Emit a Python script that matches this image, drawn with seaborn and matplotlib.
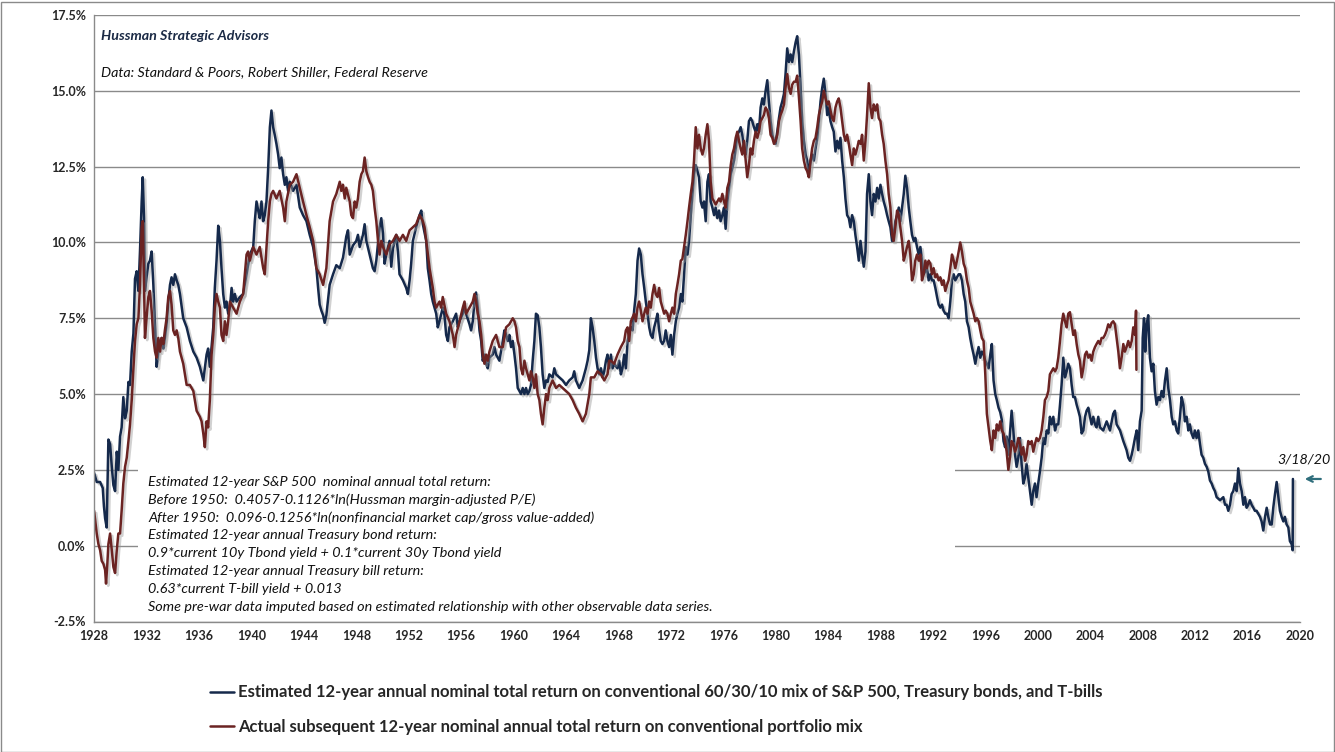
import matplotlib
matplotlib.use("Agg")
import matplotlib.pyplot as plt
import matplotlib.patheffects as pe
from matplotlib.patches import Rectangle
from matplotlib.ticker import FuncFormatter
import seaborn as sns
import pandas as pd

# (year, percent)
est_pts = [
    (1928.0, 2.4), (1928.2, 2.1), (1928.46, 2.1), (1928.66, 1.9), (1928.75, 1.3), (1928.84, 0.9),
    (1928.96, 0.6), (1929.09, 3.5), (1929.22, 3.35), (1929.35, 2.6), (1929.47, 2.0), (1929.6, 1.8),
    (1929.73, 3.1), (1929.85, 2.5), (1929.98, 3.6), (1930.1, 3.9), (1930.23, 4.9), (1930.36, 4.2),
    (1930.49, 4.45), (1930.62, 5.4), (1930.74, 5.3), (1930.87, 6.4), (1931.0, 7.0), (1931.12, 8.8),
    (1931.25, 9.05), (1931.38, 8.4), (1931.5, 9.7), (1931.63, 11.35), (1931.71, 12.15), (1931.81, 10.8),
    (1931.88, 8.4), (1932.0, 8.85), (1932.14, 9.3), (1932.26, 9.4), (1932.39, 9.7), (1932.52, 8.6),
    (1932.65, 7.2), (1932.77, 5.9), (1932.9, 6.4), (1933.03, 6.75), (1933.15, 6.85), (1933.28, 6.5),
    (1933.4, 6.85), (1933.53, 7.3), (1933.66, 8.05), (1933.79, 8.6), (1933.91, 8.85), (1934.04, 8.6),
    (1934.17, 8.95), (1934.3, 8.75), (1934.42, 8.6), (1934.55, 8.3), (1934.8, 7.5), (1935.06, 7.2),
    (1935.31, 6.75), (1935.57, 6.4), (1935.82, 6.2), (1936.07, 5.9), (1936.33, 5.45), (1936.45, 5.85),
    (1936.58, 6.3), (1936.7, 6.5), (1936.83, 5.9), (1937.09, 7.2), (1937.21, 8.5), (1937.34, 9.4),
    (1937.47, 10.55), (1937.6, 10.05), (1937.72, 9.15), (1937.85, 8.3), (1937.98, 7.85), (1938.1, 8.05),
    (1938.23, 7.65), (1938.36, 7.85), (1938.49, 8.5), (1938.61, 8.05), (1938.74, 8.3), (1938.87, 8.05),
    (1939.12, 8.2), (1939.37, 8.3), (1939.63, 8.95), (1939.88, 9.6), (1940.14, 9.85), (1940.26, 10.7),
    (1940.39, 11.35), (1940.52, 11.05), (1940.64, 10.8), (1940.77, 11.35), (1940.9, 10.7), (1941.02, 10.9),
    (1941.15, 11.35), (1941.28, 12.45), (1941.41, 13.8), (1941.53, 14.35), (1941.66, 13.8), (1941.78, 13.55),
    (1941.91, 13.25), (1942.04, 12.9), (1942.16, 12.45), (1942.29, 12.8), (1942.42, 12.25), (1942.55, 11.9),
    (1942.67, 12.15), (1942.8, 11.7), (1942.93, 12.0), (1943.18, 11.7), (1943.44, 11.9), (1943.69, 11.15),
    (1943.94, 10.9), (1944.2, 10.7), (1944.45, 10.25), (1944.71, 9.85), (1944.96, 9.15), (1945.09, 8.5),
    (1945.21, 7.95), (1945.34, 7.75), (1945.47, 7.6), (1945.59, 7.35), (1945.72, 7.6), (1945.97, 8.6),
    (1946.23, 8.95), (1946.48, 9.25), (1946.74, 9.15), (1946.99, 9.5), (1947.24, 10.2), (1947.37, 10.4),
    (1947.5, 9.6), (1947.75, 9.9), (1948.0, 10.05), (1948.13, 10.25), (1948.26, 9.85), (1948.51, 10.25),
    (1948.64, 10.6), (1948.77, 10.05), (1949.02, 9.6), (1949.27, 9.15), (1949.4, 9.05), (1949.53, 9.4),
    (1949.78, 10.5), (1949.91, 10.8), (1950.04, 10.3), (1950.16, 9.3), (1950.29, 9.6), (1950.54, 10.05),
    (1950.67, 9.2), (1950.8, 9.8), (1951.05, 10.25), (1951.18, 9.7), (1951.3, 8.95), (1951.56, 8.75),
    (1951.81, 8.5), (1951.94, 8.3), (1952.07, 8.75), (1952.19, 9.3), (1952.32, 10.05), (1952.57, 10.5),
    (1952.83, 10.9), (1952.96, 11.05), (1953.08, 10.6), (1953.34, 10.05), (1953.46, 9.15), (1953.59, 8.75),
    (1953.72, 8.3), (1953.84, 8.05), (1954.1, 7.65), (1954.22, 7.2), (1954.35, 7.4), (1954.6, 7.85),
    (1954.73, 7.6), (1954.86, 6.95), (1954.99, 6.75), (1955.11, 7.2), (1955.37, 7.4), (1955.62, 7.65),
    (1955.75, 7.2), (1955.88, 7.4), (1956.13, 7.65), (1956.26, 7.85), (1956.38, 7.65), (1956.64, 7.3),
    (1956.76, 7.1), (1956.89, 7.4), (1957.02, 8.05), (1957.14, 8.35), (1957.27, 7.85), (1957.4, 7.1),
    (1957.53, 6.75), (1957.65, 6.1), (1957.78, 6.3), (1957.91, 6.0), (1958.03, 5.85), (1958.16, 6.2),
    (1958.41, 6.3), (1958.54, 6.55), (1958.67, 6.3), (1958.92, 6.1), (1959.18, 6.75), (1959.3, 7.1),
    (1959.43, 6.95), (1959.56, 6.75), (1959.68, 6.95), (1959.81, 6.55), (1959.94, 6.75), (1960.07, 6.3),
    (1960.19, 5.85), (1960.32, 5.2), (1960.45, 5.1), (1960.57, 5.0), (1960.7, 5.2), (1960.83, 5.0),
    (1960.95, 5.2), (1961.08, 5.0), (1961.21, 5.1), (1961.33, 5.3), (1961.46, 6.1), (1961.59, 6.75),
    (1961.71, 7.65), (1961.84, 7.6), (1961.97, 7.2), (1962.09, 6.55), (1962.22, 5.65), (1962.35, 5.2),
    (1962.48, 5.45), (1962.6, 5.4), (1962.73, 5.65), (1962.98, 5.55), (1963.11, 5.85), (1963.24, 5.65),
    (1963.49, 5.55), (1963.75, 5.45), (1964.0, 5.3), (1964.25, 5.45), (1964.51, 5.55), (1964.63, 5.75),
    (1964.76, 5.45), (1965.01, 5.2), (1965.27, 5.45), (1965.52, 5.85), (1965.65, 6.1), (1965.78, 6.45),
    (1965.9, 7.5), (1966.03, 7.2), (1966.16, 6.75), (1966.29, 6.2), (1966.41, 5.85), (1966.54, 5.65),
    (1966.67, 5.85), (1966.79, 5.55), (1966.92, 5.75), (1967.05, 6.1), (1967.17, 6.3), (1967.3, 5.85),
    (1967.43, 6.3), (1967.55, 5.85), (1967.68, 6.0), (1967.93, 5.85), (1968.06, 6.1), (1968.19, 5.65),
    (1968.31, 5.85), (1968.44, 6.3), (1968.57, 5.85), (1968.7, 6.75), (1968.95, 7.2), (1969.08, 7.1),
    (1969.2, 7.75), (1969.33, 8.3), (1969.46, 9.4), (1969.58, 9.8), (1969.71, 9.6), (1969.84, 8.95),
    (1969.97, 8.5), (1970.09, 8.05), (1970.22, 7.65), (1970.35, 7.2), (1970.47, 6.95), (1970.6, 6.85),
    (1970.73, 7.2), (1970.85, 7.4), (1970.98, 7.65), (1971.11, 7.1), (1971.23, 6.75), (1971.36, 6.65),
    (1971.49, 6.75), (1971.61, 7.1), (1971.74, 6.75), (1971.87, 6.55), (1972.0, 6.95), (1972.12, 6.3),
    (1972.25, 6.95), (1972.38, 7.4), (1972.5, 7.65), (1972.63, 7.85), (1972.76, 8.3), (1972.88, 8.05),
    (1973.01, 8.95), (1973.14, 9.85), (1973.27, 9.6), (1973.39, 10.05), (1973.52, 10.9), (1973.65, 11.6),
    (1973.77, 12.25), (1973.9, 12.55), (1974.03, 12.35), (1974.15, 12.15), (1974.28, 11.35), (1974.41, 11.15),
    (1974.53, 11.35), (1974.66, 10.7), (1974.79, 12.0), (1974.91, 12.25), (1975.04, 11.35), (1975.17, 11.15),
    (1975.3, 10.9), (1975.42, 11.15), (1975.55, 10.8), (1975.68, 11.05), (1975.8, 10.7), (1975.93, 10.9),
    (1976.06, 11.15), (1976.18, 10.45), (1976.31, 11.35), (1976.44, 11.8), (1976.57, 12.25), (1976.69, 12.45),
    (1976.82, 12.7), (1976.95, 13.1), (1977.07, 13.55), (1977.2, 13.65), (1977.33, 13.8), (1977.45, 13.55),
    (1977.58, 13.1), (1977.71, 12.9), (1977.83, 13.35), (1977.96, 14.0), (1978.09, 14.1), (1978.21, 14.0),
    (1978.34, 13.8), (1978.47, 13.65), (1978.6, 13.9), (1978.72, 13.65), (1978.85, 14.45), (1978.98, 14.75),
    (1979.1, 14.55), (1979.23, 15.0), (1979.36, 15.35), (1979.48, 14.65), (1979.61, 14.0), (1979.74, 13.55),
    (1979.87, 13.35), (1979.99, 13.25), (1980.12, 13.65), (1980.25, 14.1), (1980.37, 14.45), (1980.5, 14.65),
    (1980.63, 14.9), (1980.75, 15.55), (1980.88, 16.4), (1981.01, 15.95), (1981.14, 16.2), (1981.26, 15.95),
    (1981.39, 16.3), (1981.52, 16.6), (1981.64, 16.8), (1981.77, 16.2), (1981.9, 15.1), (1982.02, 14.0),
    (1982.15, 13.35), (1982.28, 12.9), (1982.4, 12.7), (1982.53, 12.25), (1982.66, 12.7), (1982.78, 12.9),
    (1982.91, 12.7), (1983.04, 13.1), (1983.17, 13.45), (1983.29, 14.0), (1983.42, 14.65), (1983.55, 15.1),
    (1983.67, 15.4), (1983.8, 14.9), (1983.93, 14.2), (1984.05, 14.45), (1984.18, 14.0), (1984.31, 13.8),
    (1984.43, 13.65), (1984.56, 13.0), (1984.69, 13.35), (1984.81, 13.1), (1984.94, 13.45), (1985.07, 12.7),
    (1985.2, 12.15), (1985.32, 11.45), (1985.45, 10.9), (1985.58, 10.8), (1985.7, 10.5), (1985.83, 10.9),
    (1985.96, 10.7), (1986.08, 10.25), (1986.21, 9.85), (1986.34, 9.4), (1986.47, 10.05), (1986.59, 9.6),
    (1986.72, 9.2), (1986.85, 9.7), (1986.97, 11.6), (1987.1, 12.25), (1987.23, 11.35), (1987.35, 10.9),
    (1987.48, 11.6), (1987.61, 11.35), (1987.74, 11.8), (1987.86, 11.45), (1987.99, 11.9), (1988.12, 11.6),
    (1988.24, 11.35), (1988.37, 11.15), (1988.5, 10.9), (1988.62, 10.7), (1988.75, 10.5), (1988.88, 10.05),
    (1989.0, 10.25), (1989.13, 10.7), (1989.26, 10.9), (1989.39, 11.15), (1989.51, 10.7), (1989.64, 11.15),
    (1989.77, 11.6), (1989.89, 12.2), (1990.02, 11.8), (1990.15, 11.15), (1990.27, 10.7), (1990.4, 10.25),
    (1990.53, 10.05), (1990.65, 10.15), (1990.78, 9.85), (1990.91, 9.6), (1991.04, 9.85), (1991.16, 9.4),
    (1991.29, 8.95), (1991.42, 9.05), (1991.54, 9.15), (1991.67, 8.75), (1991.8, 8.95), (1991.92, 8.75),
    (1992.05, 8.75), (1992.18, 8.5), (1992.31, 8.2), (1992.43, 7.95), (1992.56, 7.85), (1992.69, 7.95),
    (1992.81, 7.75), (1992.94, 7.65), (1993.07, 7.65), (1993.19, 7.5), (1993.32, 8.05), (1993.45, 8.75),
    (1993.58, 8.95), (1993.7, 8.75), (1993.83, 8.85), (1993.96, 8.95), (1994.08, 8.95), (1994.21, 8.75),
    (1994.34, 8.3), (1994.46, 8.05), (1994.59, 7.4), (1994.72, 7.2), (1994.84, 6.85), (1994.97, 6.55),
    (1995.1, 6.3), (1995.23, 6.0), (1995.35, 6.3), (1995.48, 6.55), (1995.61, 6.2), (1995.73, 6.4),
    (1995.86, 6.3), (1995.99, 6.1), (1996.11, 6.0), (1996.24, 5.85), (1996.37, 6.3), (1996.49, 6.65),
    (1996.62, 5.45), (1996.75, 5.0), (1996.87, 4.8), (1997.0, 4.55), (1997.13, 4.4), (1997.25, 4.15),
    (1997.38, 3.45), (1997.5, 3.25), (1997.62, 3.6), (1997.75, 3.0), (1997.87, 3.7), (1998.0, 4.45),
    (1998.13, 3.8), (1998.26, 3.0), (1998.38, 2.6), (1998.51, 2.9), (1998.64, 3.55), (1998.76, 2.7),
    (1998.89, 2.05), (1999.02, 2.25), (1999.14, 2.7), (1999.27, 2.25), (1999.4, 1.8), (1999.53, 1.35),
    (1999.65, 1.8), (1999.78, 2.05), (1999.9, 1.6), (2000.03, 2.05), (2000.16, 2.45), (2000.29, 2.9),
    (2000.42, 3.55), (2000.54, 3.35), (2000.67, 3.8), (2000.8, 3.7), (2000.92, 4.25), (2001.05, 4.0),
    (2001.18, 4.25), (2001.31, 3.8), (2001.43, 4.0), (2001.56, 4.0), (2001.69, 4.65), (2001.81, 5.3),
    (2001.94, 6.2), (2002.07, 5.55), (2002.2, 5.75), (2002.32, 6.0), (2002.45, 5.85), (2002.58, 5.3),
    (2002.7, 4.9), (2002.83, 4.9), (2002.96, 4.65), (2003.09, 4.45), (2003.21, 4.25), (2003.34, 3.7),
    (2003.47, 3.8), (2003.6, 4.25), (2003.72, 4.45), (2003.85, 4.55), (2003.98, 4.25), (2004.1, 4.0),
    (2004.23, 4.25), (2004.36, 4.0), (2004.48, 3.9), (2004.61, 4.25), (2004.74, 3.9), (2004.99, 3.8),
    (2005.25, 4.1), (2005.5, 3.8), (2005.75, 4.35), (2005.88, 4.45), (2006.01, 4.0), (2006.27, 3.8),
    (2006.52, 3.45), (2006.77, 3.15), (2006.9, 2.9), (2007.03, 2.8), (2007.16, 3.0), (2007.28, 3.25),
    (2007.41, 3.55), (2007.54, 3.8), (2007.66, 3.15), (2007.79, 4.1), (2007.92, 4.45), (2008.0, 6.85),
    (2008.1, 7.5), (2008.19, 6.4), (2008.3, 7.3), (2008.42, 7.6), (2008.55, 6.2), (2008.68, 5.75),
    (2008.81, 6.0), (2008.93, 5.1), (2009.06, 4.65), (2009.19, 4.9), (2009.32, 4.8), (2009.44, 5.1),
    (2009.57, 4.9), (2009.7, 5.45), (2009.83, 5.85), (2009.95, 5.2), (2010.08, 4.8), (2010.21, 4.25),
    (2010.33, 4.0), (2010.46, 4.1), (2010.59, 3.8), (2010.71, 3.7), (2010.84, 4.25), (2010.97, 4.9),
    (2011.1, 4.65), (2011.22, 4.1), (2011.35, 4.25), (2011.48, 3.8), (2011.6, 4.0), (2011.73, 3.7),
    (2011.86, 3.55), (2011.98, 3.8), (2012.11, 3.55), (2012.24, 3.8), (2012.37, 3.35), (2012.49, 3.0),
    (2012.62, 2.9), (2012.75, 2.7), (2012.88, 2.6), (2013.0, 2.45), (2013.13, 2.15), (2013.26, 2.05),
    (2013.39, 1.9), (2013.51, 1.8), (2013.64, 1.6), (2013.9, 1.5), (2014.15, 1.6), (2014.28, 1.35),
    (2014.4, 1.35), (2014.53, 1.15), (2014.66, 1.35), (2014.78, 1.7), (2014.91, 1.8), (2015.04, 2.05),
    (2015.17, 1.8), (2015.29, 2.55), (2015.42, 2.05), (2015.55, 1.8), (2015.68, 1.35), (2015.8, 1.6),
    (2015.93, 1.25), (2016.06, 1.35), (2016.18, 1.5), (2016.31, 1.35), (2016.44, 1.25), (2016.56, 1.15),
    (2016.69, 1.15), (2016.82, 1.05), (2016.95, 0.95), (2017.07, 0.8), (2017.2, 0.5), (2017.33, 0.95),
    (2017.46, 1.25), (2017.58, 0.95), (2017.71, 0.7), (2017.84, 0.7), (2017.96, 1.25), (2018.09, 1.7),
    (2018.22, 2.1), (2018.35, 1.6), (2018.47, 1.15), (2018.6, 0.95), (2018.73, 0.8), (2018.85, 0.95),
    (2018.98, 0.7), (2019.11, 0.6), (2019.23, 0.15), (2019.36, 0.05), (2019.44, -0.15), (2019.46, 2.2),
]

act_pts = [
    (1928.0, 1.15), (1928.2, 0.4), (1928.33, 0.05), (1928.46, -0.15), (1928.58, -0.5), (1928.71, -0.6),
    (1928.84, -0.8), (1928.91, -1.25), (1929.01, -0.6), (1929.09, 0.05), (1929.22, 0.4), (1929.35, -0.15),
    (1929.47, -0.7), (1929.6, -0.9), (1929.73, -0.15), (1929.85, 0.4), (1929.98, 0.4), (1930.1, 1.15),
    (1930.23, 2.05), (1930.36, 2.6), (1930.49, 2.9), (1930.62, 3.45), (1930.74, 4.0), (1930.87, 4.8),
    (1931.0, 5.85), (1931.12, 6.75), (1931.25, 7.3), (1931.38, 7.5), (1931.5, 8.6), (1931.63, 10.5),
    (1931.71, 10.7), (1931.81, 8.6), (1931.88, 6.85), (1932.0, 7.5), (1932.14, 8.2), (1932.26, 8.4),
    (1932.39, 7.75), (1932.52, 6.85), (1932.65, 6.4), (1932.77, 6.2), (1932.9, 6.85), (1933.03, 6.4),
    (1933.15, 6.85), (1933.28, 6.65), (1933.4, 7.1), (1933.53, 7.5), (1933.66, 8.2), (1933.79, 8.4),
    (1933.91, 7.95), (1934.04, 7.1), (1934.17, 6.95), (1934.3, 7.1), (1934.42, 6.85), (1934.55, 6.4),
    (1934.8, 6.0), (1935.06, 5.3), (1935.31, 5.3), (1935.57, 5.1), (1935.82, 4.45), (1936.07, 4.25),
    (1936.2, 4.1), (1936.33, 3.7), (1936.45, 3.25), (1936.58, 4.1), (1936.7, 3.9), (1936.83, 4.8),
    (1936.96, 6.3), (1937.09, 6.95), (1937.21, 7.85), (1937.34, 8.3), (1937.47, 8.05), (1937.6, 7.85),
    (1937.72, 6.95), (1937.85, 6.75), (1937.98, 7.4), (1938.1, 6.95), (1938.23, 7.4), (1938.36, 8.05),
    (1938.61, 7.85), (1938.87, 7.65), (1939.12, 8.05), (1939.37, 8.3), (1939.63, 9.6), (1939.75, 9.7),
    (1939.88, 9.4), (1940.14, 9.85), (1940.39, 9.6), (1940.64, 9.85), (1940.9, 9.15), (1941.02, 8.95),
    (1941.15, 9.85), (1941.28, 10.7), (1941.41, 11.35), (1941.53, 11.6), (1941.66, 11.7), (1941.91, 11.45),
    (1942.16, 11.7), (1942.42, 11.15), (1942.55, 10.7), (1942.67, 11.35), (1942.93, 11.9), (1943.18, 12.0),
    (1943.44, 12.25), (1943.69, 11.8), (1943.94, 11.35), (1944.2, 10.9), (1944.45, 10.5), (1944.71, 10.05),
    (1944.96, 9.15), (1945.21, 8.95), (1945.47, 8.6), (1945.72, 9.15), (1945.97, 10.7), (1946.23, 11.35),
    (1946.48, 11.6), (1946.74, 12.0), (1946.86, 11.7), (1946.99, 11.9), (1947.12, 11.45), (1947.24, 11.8),
    (1947.5, 11.35), (1947.62, 10.9), (1947.75, 10.8), (1947.88, 11.35), (1948.0, 11.15), (1948.13, 11.45),
    (1948.26, 12.0), (1948.39, 12.25), (1948.51, 12.35), (1948.64, 12.8), (1948.77, 12.35), (1948.9, 12.15),
    (1949.02, 12.0), (1949.15, 11.9), (1949.27, 11.7), (1949.4, 11.15), (1949.53, 10.7), (1949.66, 10.05),
    (1949.78, 9.6), (1949.91, 10.05), (1950.04, 9.85), (1950.29, 9.6), (1950.54, 9.95), (1950.8, 10.05),
    (1951.05, 10.25), (1951.3, 10.05), (1951.56, 10.25), (1951.81, 10.05), (1952.07, 10.4), (1952.32, 10.5),
    (1952.57, 10.6), (1952.83, 10.9), (1952.96, 10.8), (1953.08, 10.7), (1953.21, 10.5), (1953.34, 10.05),
    (1953.59, 9.15), (1953.84, 8.5), (1953.97, 8.05), (1954.1, 7.85), (1954.35, 8.05), (1954.48, 7.85),
    (1954.6, 8.2), (1954.86, 7.65), (1955.11, 7.4), (1955.37, 6.95), (1955.5, 6.55), (1955.62, 6.95),
    (1955.88, 7.4), (1956.13, 7.85), (1956.26, 8.05), (1956.38, 7.65), (1956.64, 7.85), (1956.89, 8.05),
    (1957.02, 8.3), (1957.14, 8.05), (1957.27, 7.65), (1957.4, 7.4), (1957.53, 6.95), (1957.65, 6.3),
    (1957.78, 6.0), (1957.91, 6.3), (1958.03, 6.1), (1958.16, 6.4), (1958.41, 6.75), (1958.67, 6.95),
    (1958.92, 6.55), (1959.18, 6.55), (1959.43, 7.2), (1959.68, 7.3), (1959.94, 7.5), (1960.07, 7.4),
    (1960.19, 7.2), (1960.32, 6.75), (1960.45, 6.55), (1960.57, 5.85), (1960.7, 5.65), (1960.83, 6.1),
    (1960.95, 5.85), (1961.21, 5.45), (1961.33, 5.75), (1961.46, 5.55), (1961.59, 5.2), (1961.71, 5.65),
    (1961.84, 5.0), (1961.97, 4.8), (1962.09, 4.35), (1962.22, 4.0), (1962.35, 4.55), (1962.48, 5.0),
    (1962.6, 4.8), (1962.73, 5.2), (1962.98, 5.45), (1963.24, 5.2), (1963.49, 5.3), (1963.75, 5.2),
    (1964.0, 5.1), (1964.25, 5.0), (1964.51, 4.8), (1964.76, 4.55), (1965.01, 4.35), (1965.27, 4.1),
    (1965.52, 4.35), (1965.78, 5.0), (1965.9, 5.55), (1966.16, 5.55), (1966.41, 5.75), (1966.67, 5.65),
    (1966.92, 5.45), (1967.17, 5.65), (1967.3, 6.1), (1967.43, 6.1), (1967.68, 6.0), (1967.93, 6.3),
    (1968.19, 6.55), (1968.44, 6.75), (1968.57, 7.1), (1968.7, 7.2), (1968.82, 6.75), (1968.95, 7.4),
    (1969.2, 7.65), (1969.33, 7.4), (1969.46, 7.85), (1969.58, 8.05), (1969.71, 7.75), (1969.84, 7.4),
    (1969.97, 7.65), (1970.09, 7.85), (1970.22, 7.65), (1970.35, 8.05), (1970.47, 7.85), (1970.6, 8.3),
    (1970.73, 8.6), (1970.85, 8.3), (1970.98, 8.2), (1971.11, 8.5), (1971.23, 8.05), (1971.36, 7.85),
    (1971.49, 7.65), (1971.61, 7.75), (1971.74, 7.65), (1971.87, 7.4), (1972.0, 7.65), (1972.12, 7.85),
    (1972.25, 7.65), (1972.38, 8.3), (1972.5, 8.6), (1972.63, 8.95), (1972.76, 9.4), (1972.88, 9.45),
    (1973.01, 9.85), (1973.14, 10.25), (1973.27, 10.7), (1973.39, 11.15), (1973.52, 11.6), (1973.65, 12.0),
    (1973.77, 12.7), (1973.9, 13.8), (1974.03, 13.1), (1974.15, 13.55), (1974.28, 13.1), (1974.41, 12.9),
    (1974.53, 13.1), (1974.66, 13.55), (1974.79, 13.9), (1974.91, 13.35), (1975.04, 12.0), (1975.17, 11.45),
    (1975.3, 11.35), (1975.42, 11.25), (1975.55, 11.35), (1975.68, 11.45), (1975.8, 11.35), (1975.93, 11.6),
    (1976.06, 11.35), (1976.18, 11.15), (1976.31, 11.8), (1976.44, 12.0), (1976.57, 12.55), (1976.69, 12.9),
    (1976.82, 13.1), (1976.95, 13.45), (1977.07, 13.65), (1977.2, 13.35), (1977.33, 13.1), (1977.45, 12.9),
    (1977.58, 13.35), (1977.71, 12.7), (1977.83, 12.15), (1977.96, 12.55), (1978.09, 13.1), (1978.21, 12.9),
    (1978.34, 13.35), (1978.47, 13.65), (1978.6, 13.45), (1978.72, 13.65), (1978.85, 14.0), (1978.98, 14.1),
    (1979.1, 14.2), (1979.23, 14.45), (1979.36, 14.35), (1979.48, 14.1), (1979.61, 13.55), (1979.74, 13.45),
    (1979.87, 13.25), (1979.99, 13.35), (1980.12, 13.55), (1980.25, 14.0), (1980.37, 14.2), (1980.5, 14.35),
    (1980.63, 14.55), (1980.75, 15.1), (1980.88, 15.55), (1981.01, 15.1), (1981.14, 14.9), (1981.26, 15.2),
    (1981.39, 15.3), (1981.52, 15.3), (1981.64, 15.5), (1981.77, 14.8), (1981.9, 14.0), (1982.02, 13.1),
    (1982.15, 12.7), (1982.28, 12.45), (1982.4, 12.35), (1982.53, 12.15), (1982.66, 12.7), (1982.78, 13.1),
    (1982.91, 13.35), (1983.04, 13.45), (1983.17, 13.8), (1983.29, 14.2), (1983.42, 14.45), (1983.55, 14.65),
    (1983.67, 15.0), (1983.8, 14.75), (1983.93, 14.55), (1984.05, 14.65), (1984.18, 14.35), (1984.31, 14.1),
    (1984.43, 14.0), (1984.56, 14.45), (1984.69, 14.65), (1984.81, 14.75), (1984.94, 14.45), (1985.07, 14.0),
    (1985.2, 13.55), (1985.32, 13.35), (1985.45, 13.55), (1985.58, 13.25), (1985.7, 12.9), (1985.83, 12.55),
    (1985.96, 13.1), (1986.08, 12.9), (1986.21, 13.1), (1986.34, 13.35), (1986.47, 13.25), (1986.59, 13.55),
    (1986.72, 12.7), (1986.85, 13.35), (1986.97, 14.2), (1987.1, 15.25), (1987.23, 14.45), (1987.35, 14.1),
    (1987.48, 14.55), (1987.61, 14.35), (1987.74, 14.55), (1987.86, 14.1), (1987.99, 14.0), (1988.12, 13.55),
    (1988.24, 13.25), (1988.37, 12.7), (1988.5, 12.25), (1988.62, 11.6), (1988.75, 11.15), (1988.88, 10.25),
    (1989.0, 10.05), (1989.13, 10.5), (1989.26, 11.05), (1989.39, 10.9), (1989.51, 10.5), (1989.64, 10.05),
    (1989.77, 9.4), (1989.89, 9.6), (1990.02, 9.85), (1990.15, 10.05), (1990.27, 9.6), (1990.4, 8.75),
    (1990.53, 8.95), (1990.65, 9.4), (1990.78, 9.6), (1990.91, 9.4), (1991.04, 9.6), (1991.16, 8.75),
    (1991.29, 8.95), (1991.42, 9.4), (1991.54, 9.15), (1991.67, 9.4), (1991.8, 9.3), (1991.92, 8.95),
    (1992.05, 9.15), (1992.18, 8.85), (1992.31, 8.95), (1992.43, 8.75), (1992.56, 8.85), (1992.69, 8.6),
    (1992.81, 8.75), (1992.94, 8.4), (1993.07, 8.6), (1993.19, 8.75), (1993.32, 9.15), (1993.45, 9.6),
    (1993.58, 9.4), (1993.7, 9.15), (1993.83, 9.4), (1993.96, 9.7), (1994.08, 10.0), (1994.21, 9.7),
    (1994.34, 9.3), (1994.46, 9.15), (1994.59, 8.75), (1994.72, 8.5), (1994.84, 8.05), (1994.97, 7.85),
    (1995.1, 7.65), (1995.23, 7.4), (1995.35, 7.5), (1995.48, 7.4), (1995.61, 7.1), (1995.73, 6.85),
    (1995.86, 6.75), (1995.99, 5.65), (1996.11, 4.35), (1996.24, 3.9), (1996.37, 3.45), (1996.49, 3.15),
    (1996.62, 3.8), (1996.75, 3.55), (1996.87, 4.0), (1997.0, 3.8), (1997.13, 4.1), (1997.25, 3.8),
    (1997.38, 3.7), (1997.5, 3.45), (1997.62, 3.1), (1997.75, 2.5), (1997.87, 2.9), (1998.0, 3.45),
    (1998.13, 3.35), (1998.26, 3.1), (1998.38, 3.25), (1998.51, 3.55), (1998.64, 3.35), (1998.76, 3.0),
    (1998.89, 3.25), (1999.02, 2.8), (1999.14, 3.0), (1999.27, 3.45), (1999.4, 3.35), (1999.53, 3.45),
    (1999.65, 3.1), (1999.78, 3.35), (1999.9, 3.55), (2000.03, 3.45), (2000.16, 3.55), (2000.29, 3.8),
    (2000.42, 4.25), (2000.54, 4.8), (2000.67, 4.9), (2000.8, 5.1), (2000.92, 5.65), (2001.05, 5.75),
    (2001.18, 5.85), (2001.31, 5.75), (2001.43, 5.85), (2001.56, 6.2), (2001.69, 6.75), (2001.81, 7.3),
    (2001.94, 7.65), (2002.07, 7.4), (2002.2, 7.2), (2002.32, 7.65), (2002.45, 7.7), (2002.58, 7.3),
    (2002.7, 6.95), (2002.83, 7.1), (2002.96, 6.65), (2003.09, 6.3), (2003.21, 6.1), (2003.34, 5.55),
    (2003.47, 5.85), (2003.6, 6.3), (2003.72, 6.4), (2003.85, 6.2), (2003.98, 6.3), (2004.1, 6.1),
    (2004.23, 6.4), (2004.36, 6.55), (2004.48, 6.65), (2004.61, 6.75), (2004.74, 6.65), (2004.86, 6.85),
    (2004.99, 6.85), (2005.12, 6.95), (2005.25, 7.1), (2005.37, 7.3), (2005.5, 7.2), (2005.63, 7.35),
    (2005.75, 7.4), (2005.88, 7.3), (2006.01, 6.85), (2006.14, 6.4), (2006.26, 5.85), (2006.39, 6.2),
    (2006.52, 6.65), (2006.64, 6.4), (2006.77, 6.55), (2006.9, 6.75), (2007.03, 6.55), (2007.16, 6.75),
    (2007.28, 7.2), (2007.41, 6.95), (2007.49, 7.75), (2007.52, 5.8),
]

est_label = ("Estimated 12-year annual nominal total return on conventional 60/30/10 mix "
             "of S&P 500, Treasury bonds, and T-bills")
act_label = "Actual subsequent 12-year nominal annual total return on conventional portfolio mix"

note_lines = [
    "Estimated 12-year S&P 500  nominal annual total return:",
    "Before 1950:  0.4057-0.1126*ln(Hussman margin-adjusted P/E)",
    "After 1950:  0.096-0.1256*ln(nonfinancial market cap/gross value-added)",
    "Estimated 12-year annual Treasury bond return:",
    "0.9*current 10y Tbond yield + 0.1*current 30y Tbond yield",
    "Estimated 12-year annual Treasury bill return:",
    "0.63*current T-bill yield + 0.013",
    "Some pre-war data imputed based on estimated relationship with other observable data series.",
]

NAVY = "#15294b"
MAROON = "#6b2322"
GRID = "#8a8a8a"

sns.set_style("white")
plt.rcParams["font.family"] = ["Lato", "DejaVu Sans"]

df = pd.concat([
    pd.DataFrame(est_pts, columns=["year", "ret"]).assign(series=est_label),
    pd.DataFrame(act_pts, columns=["year", "ret"]).assign(series=act_label),
])

W, H = 1335, 752
fig = plt.figure(figsize=(W / 100, H / 100), dpi=100)
# plot area in pixels: x 94..1300, y 15..621.5
ax = fig.add_axes([94.1 / W, 1 - 621.5 / H, (1300 - 94.1) / W, (621.5 - 15) / H])

shadow = [pe.SimpleLineShadow(offset=(1.6, -1.6), shadow_color="#9a9a9a", alpha=0.45), pe.Normal()]
for name, color in [(est_label, NAVY), (act_label, MAROON)]:
    sub = df[df["series"] == name]
    sns.lineplot(data=sub, x="year", y="ret", ax=ax, color=color, lw=1.8,
                 label=name, sort=False, estimator=None)
    ax.lines[-1].set_path_effects(shadow)

ax.set_xlim(1928, 2020)
ax.set_ylim(-2.5, 17.5)
ax.set_xticks(range(1928, 2021, 4))
ax.set_yticks([-2.5 + 2.5 * i for i in range(9)])
ax.yaxis.set_major_formatter(FuncFormatter(lambda v, _: f"{v:.1f}%"))
ax.tick_params(length=0, labelsize=9, pad=6)
for lab in ax.get_xticklabels() + ax.get_yticklabels():
    lab.set_fontweight("bold")
ax.set_xlabel("")
ax.set_ylabel("")
ax.grid(axis="y", color=GRID, lw=1)
ax.set_axisbelow(True)
for side in ["top", "right"]:
    ax.spines[side].set_visible(False)
for side in ["left", "bottom"]:
    ax.spines[side].set_color(GRID)
    ax.spines[side].set_linewidth(1)

# white text box that hides the lower gridlines
ax.add_patch(Rectangle(((138 - 94.1) / 1206, (621.5 - 615) / 606.5), (955 - 138) / 1206, (615 - 467) / 606.5,
                       transform=ax.transAxes, facecolor="white", edgecolor="none", zorder=1))
for i, line in enumerate(note_lines):
    fig.text(148 / W, 1 - (481.7 + 17.9 * i) / H, line, fontsize=10.4, style="italic",
             va="center", ha="left", color="#111111")

fig.text(101.5 / W, 1 - 36 / H, "Hussman Strategic Advisors", fontsize=10.3, style="italic",
         fontweight="bold", color="#1b2a45", va="center")
fig.text(101.5 / W, 1 - 72 / H, "Data: Standard & Poors, Robert Shiller, Federal Reserve", fontsize=10.3,
         style="italic", color="#111111", va="center")

ax.annotate("", xy=(2020.15, 2.2), xytext=(2021.8, 2.2), annotation_clip=False,
            arrowprops=dict(arrowstyle="->", color="#2f6e7c", lw=1.6))
ax.text(2020.3, 2.85, "3/18/20", fontsize=10.3, style="italic", ha="center", va="center",
        clip_on=False, color="#111111")

ax.get_legend().remove()
handles, labels = ax.get_legend_handles_labels()
leg = fig.legend(handles, labels, loc="upper left", bbox_to_anchor=(210 / W, 1 - 684.5 / H),
                 frameon=False, borderpad=0, borderaxespad=0, handlelength=1.45, handletextpad=0.25,
                 labelspacing=1.1, prop={"size": 12, "weight": "bold"})
for h in leg.legend_handles:
    h.set_path_effects([])
    h.set_linewidth(1.8)

fig.patches.append(Rectangle((0.5 / W, 0.5 / H), (W - 2) / W, (H - 2) / H, transform=fig.transFigure,
                             fill=False, edgecolor=GRID, lw=1))

fig.savefig("out.png", dpi=100, facecolor="white")
